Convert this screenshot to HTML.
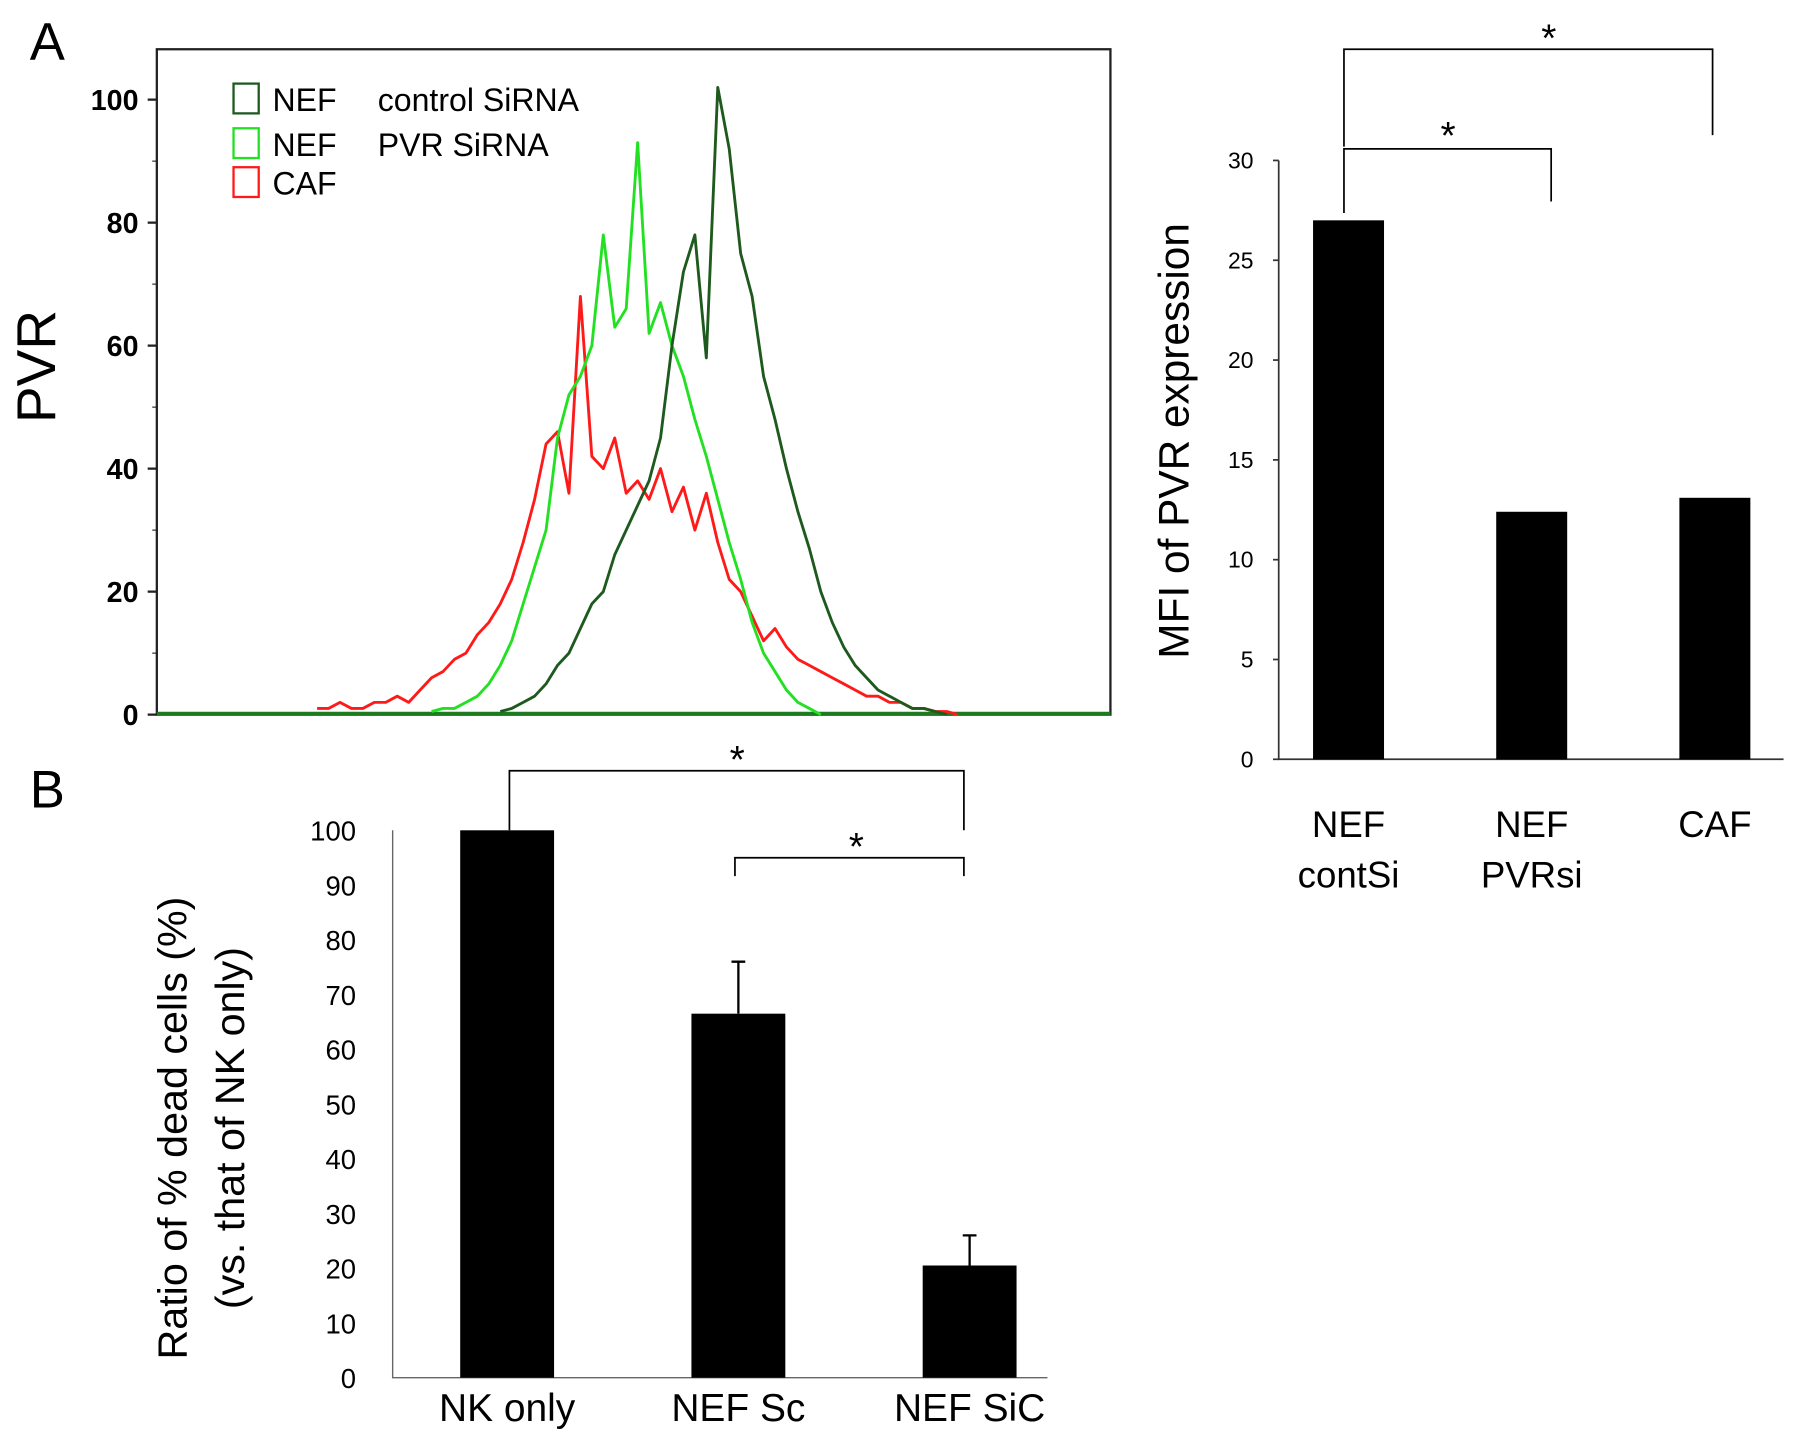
<!DOCTYPE html>
<html><head><meta charset="utf-8"><style>
html,body{margin:0;padding:0;background:#fff;}
svg{display:block;font-family:"Liberation Sans",sans-serif;}
</style></head><body>
<svg id="fig" width="1795" height="1443" viewBox="0 0 1568 1260" preserveAspectRatio="none" xmlns="http://www.w3.org/2000/svg">
<rect width="1568" height="1260" fill="#fff"/>
<text x="26" y="52" font-size="46">A</text>
<text x="26" y="705" font-size="46">B</text>
<g id="hist"></g>
<g id="mfi"></g>
<g id="dead"></g>
</svg>
<script>
// ---------- Histogram data ----------
const redStart = 14;
const redVals = [1,1,2,1,1,2,2,3,2,4,6,7,9,10,13,15,18,22,28,35,44,46,36,68,42,40,45,36,38,35,40,33,37,30,36,28,22,20,16,12,14,11,9,8,7,6,5,4,3,3,2,2,1,1,0.5,0.5,0];
const lgStart = 24;
const lgVals = [0.5,1,1,2,3,5,8,12,18,24,30,45,52,55,60,78,63,66,93,62,67,60,55,48,42,35,28,22,15,10,7,4,2,1,0];
const dgStart = 30;
const dgVals = [0.5,1,2,3,5,8,10,14,18,20,26,30,34,38,45,60,72,78,58,102,92,75,68,55,48,40,33,27,20,15,11,8,6,4,3,2,1,1,0.5,0];
const histTicks = [0,20,40,60,80,100];
const legendLabelsA = ["NEF","NEF","CAF"];
const legendLabelsB = ["control SiRNA","PVR SiRNA",""];

// ---------- MFI bar data ----------
const mfiCats = [["NEF","contSi"],["NEF","PVRsi"],["CAF"]];
const mfiVals = [27, 12.4, 13.1];
const mfiTicks = [0,5,10,15,20,25,30];

// ---------- Dead cells data ----------
const deadCats = ["NK only","NEF Sc","NEF SiC"];
const deadVals = [100, 66.5, 20.5];
const deadErr = [0, 9.5, 5.5];
const deadTicks = [0,10,20,30,40,50,60,70,80,90,100];

const NS = "http://www.w3.org/2000/svg";
function mk(parent, tag, attrs, text){
  const e = document.createElementNS(NS, tag);
  for (const k in attrs) e.setAttribute(k, attrs[k]);
  if (text !== undefined) e.textContent = text;
  parent.appendChild(e);
  return e;
}

// Histogram
(function(){
  const g = document.getElementById('hist');
  const X0=137, X1=970, Y0=624, Ytop=43;
  const xs = c => X0 + c*10;
  const ys = v => Y0 - v*5.37;
  const box = mk(g,'rect',{x:X0,y:Ytop,width:X1-X0,height:Y0-Ytop,fill:'none',stroke:'#222','stroke-width':2});
  
  
  histTicks.forEach(t=>{
    const l = mk(g,'line',{x1:X0-8,x2:X0,y1:ys(t),y2:ys(t),stroke:'#222','stroke-width':2});
    
    
    const tx = mk(g,'text',{x:X0-16,y:ys(t)+9,'font-size':25,'font-weight':'bold','text-anchor':'end'},String(t));
    
    
  });
  for(let v=10; v<100; v+=20){
    const l = mk(g,'line',{x1:X0-4,x2:X0,y1:ys(v),y2:ys(v),stroke:'#222','stroke-width':1});
    
    
  }
  const yt = mk(g,'text',{x:0,y:0,'font-size':48,'text-anchor':'middle',transform:'translate(48,320) rotate(-90)'},'PVR');
  
  
  const series = [
    {start:redStart, vals:redVals, color:'#ff1a1a', name:'caf-histogram-line'},
    {start:lgStart, vals:lgVals, color:'#22e022', name:'nef-pvr-sirna-histogram-line'},
    {start:dgStart, vals:dgVals, color:'#1e5a1e', name:'nef-control-sirna-histogram-line'}
  ];
  const bl = mk(g,'line',{x1:X0,x2:X1,y1:Y0-1,y2:Y0-1,stroke:'#1e7a1e','stroke-width':3});
  
  
  series.forEach(s=>{
    let d='';
    s.vals.forEach((v,i)=>{ d += (i?'L':'M') + xs(s.start+i).toFixed(1) + ' ' + ys(v).toFixed(1) + ' '; });
    const p = mk(g,'path',{d:d,fill:'none',stroke:s.color,'stroke-width':2.5,'stroke-linejoin':'round'});
    
    
  });
  const colors = ['#1e5a1e','#22e022','#ff1a1a'];
  const rowsY = [87,126,160];
  legendLabelsA.forEach((lab,i)=>{
    const r = mk(g,'rect',{x:204,y:rowsY[i]-14,width:22,height:26,fill:'none',stroke:colors[i],'stroke-width':2});
    
    
    const t = mk(g,'text',{x:238,y:rowsY[i]+10,'font-size':28},lab);
    
    
    if(legendLabelsB[i]){
      const t2 = mk(g,'text',{x:330,y:rowsY[i]+10,'font-size':28},legendLabelsB[i]);
      
      
    }
  });
})();

// MFI bar chart
(function(){
  const g = document.getElementById('mfi');
  const AX=1117, Y0=663, k=17.43;
  const ys = v => Y0 - v*k;
  const centers = [1178,1338,1498], bw=62;
  const ax = mk(g,'path',{d:`M${AX} ${ys(30)} L${AX} ${Y0} L1558 ${Y0}`,fill:'none',stroke:'#333','stroke-width':1.5});
  
  
  mfiTicks.forEach(t=>{
    const l = mk(g,'line',{x1:AX-5,x2:AX,y1:ys(t),y2:ys(t),stroke:'#333','stroke-width':1.5});
    
    
    const tx = mk(g,'text',{x:AX-22,y:ys(t)+7,'font-size':20,'text-anchor':'end'},String(t));
    
    
  });
  mfiVals.forEach((v,i)=>{
    const b = mk(g,'rect',{x:centers[i]-bw/2,y:ys(v),width:bw,height:v*k,fill:'#000'});
    
    
    mfiCats[i].forEach((line,j)=>{
      const t = mk(g,'text',{x:centers[i],y:731+j*44,'font-size':32,'text-anchor':'middle'},line);
      
      
    });
  });
  const yt = mk(g,'text',{x:0,y:0,'font-size':37,'text-anchor':'middle',transform:`translate(1038,385) rotate(-90)`},'MFI of PVR expression');
  
  
  const b1 = mk(g,'path',{d:'M1174 186 L1174 130 L1355 130 L1355 176',fill:'none',stroke:'#000','stroke-width':1.5});
  
  
  const s1 = mk(g,'text',{x:1265,y:130,'font-size':34,'text-anchor':'middle'},'*');
  
  
  const b2 = mk(g,'path',{d:'M1174 128 L1174 43 L1496 43 L1496 118',fill:'none',stroke:'#000','stroke-width':1.5});
  
  
  const s2 = mk(g,'text',{x:1353,y:45,'font-size':34,'text-anchor':'middle'},'*');
  
  
})();

// Dead cells bar chart
(function(){
  const g = document.getElementById('dead');
  const AX=343, Y0=1203, k=4.78;
  const ys = v => Y0 - v*k;
  const centers=[443,645,847], bw=82;
  const ax = mk(g,'path',{d:`M${AX} ${ys(100)} L${AX} ${Y0} L915 ${Y0}`,fill:'none',stroke:'#666','stroke-width':1.2});
  
  
  deadTicks.forEach(t=>{
    const tx = mk(g,'text',{x:AX-32,y:ys(t)+9,'font-size':24,'text-anchor':'end'},String(t));
    
    
  });
  deadVals.forEach((v,i)=>{
    const b = mk(g,'rect',{x:centers[i]-bw/2,y:ys(v),width:bw,height:v*k,fill:'#000'});
    
    
    if(deadErr[i]>0){
      const e = mk(g,'path',{d:`M${centers[i]} ${ys(v)} L${centers[i]} ${ys(v+deadErr[i])} M${centers[i]-6} ${ys(v+deadErr[i])} L${centers[i]+6} ${ys(v+deadErr[i])}`,stroke:'#000','stroke-width':2,fill:'none'});
      
      
    }
    const t = mk(g,'text',{x:centers[i],y:1241,'font-size':34,'text-anchor':'middle'},deadCats[i]);
    
    
  });
  const t1 = mk(g,'text',{x:0,y:0,'font-size':36,'text-anchor':'middle',transform:'translate(163,985) rotate(-90)'},'Ratio of % dead cells (%)');
  
  
  const t2 = mk(g,'text',{x:0,y:0,'font-size':36,'text-anchor':'middle',transform:'translate(213,985) rotate(-90)'},'(vs. that of NK only)');
  
  
  const b1 = mk(g,'path',{d:'M445 725 L445 673 L842 673 L842 725',fill:'none',stroke:'#000','stroke-width':1.5});
  
  
  const s1 = mk(g,'text',{x:644,y:675,'font-size':34,'text-anchor':'middle'},'*');
  
  
  const b2 = mk(g,'path',{d:'M642 765 L642 749 L842 749 L842 765',fill:'none',stroke:'#000','stroke-width':1.5});
  
  
  const s2 = mk(g,'text',{x:748,y:751,'font-size':34,'text-anchor':'middle'},'*');
  
  
})();
</script>
</body></html>
